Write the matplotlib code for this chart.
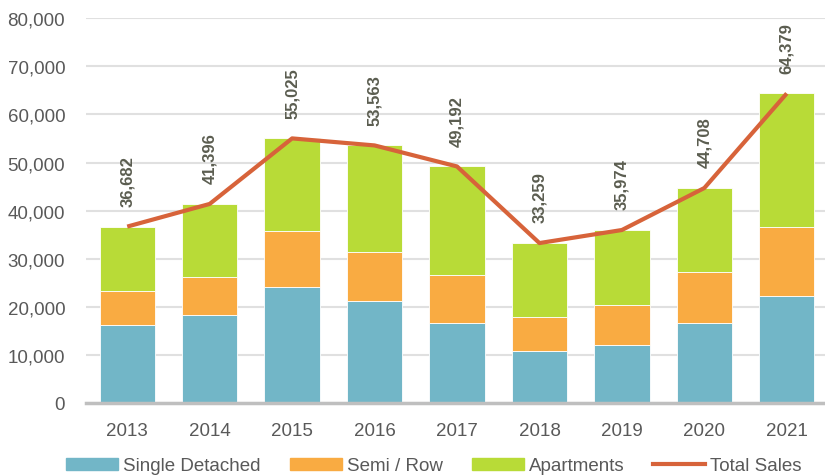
import matplotlib.pyplot as plt
from matplotlib.ticker import FuncFormatter
from matplotlib.patches import Patch
from matplotlib.lines import Line2D

plt.rcParams['font.family'] = ['Liberation Sans', 'DejaVu Sans']

years = ['2013', '2014', '2015', '2016', '2017', '2018', '2019', '2020', '2021']
single = [16200, 18300, 24050, 21150, 16630, 10750, 12120, 16570, 22180]
semi = [7150, 8000, 11750, 10150, 10040, 7050, 8180, 10600, 14470]
total = [36682, 41396, 55025, 53563, 49192, 33259, 35974, 44708, 64379]
apartments = [t - s - r for t, s, r in zip(total, single, semi)]

c_single = '#72b6c7'
c_semi = '#f9ab42'
c_apt = '#b8db37'
c_line = '#d7633a'
c_text = '#595959'

fig = plt.figure(figsize=(8.25, 4.77), dpi=100)
ax = fig.add_axes([86 / 825, 73 / 477, 742 / 825, 384.7 / 477])

x = range(len(years))
w = 0.67
bottom2 = [a + b for a, b in zip(single, semi)]
ax.bar(x, single, w, color=c_single, edgecolor='white', linewidth=0.6, zorder=2)
ax.bar(x, semi, w, bottom=single, color=c_semi, edgecolor='white', linewidth=0.6, zorder=2)
ax.bar(x, apartments, w, bottom=bottom2, color=c_apt, edgecolor='white', linewidth=0.6, zorder=2)
ax.plot(x, total, color=c_line, lw=3, zorder=3, solid_capstyle='butt')

# rotated total labels above each point of the line
for i, t in enumerate(total):
    ax.annotate(f'{t:,}', (i, t), xytext=(0, 15), textcoords='offset points',
                rotation=90, ha='center', va='bottom', fontsize=12,
                fontweight='bold', color='#5b5d50')

ax.set_xlim(-0.5, len(years) - 0.5)
ax.set_ylim(0, 80000)
ax.set_yticks(range(0, 80001, 10000))
ax.yaxis.set_major_formatter(FuncFormatter(lambda v, p: f'{int(v):,}'))
ax.set_xticks(list(x))
ax.set_xticklabels(years)
ax.tick_params(axis='both', length=0, labelsize=13.5, colors=c_text)
ax.tick_params(axis='x', pad=14)
ax.tick_params(axis='y', pad=15)
ax.grid(axis='y', color='#e0e0e0', lw=1.5, zorder=0)
ax.set_axisbelow(True)
for s in ['top', 'right', 'left']:
    ax.spines[s].set_visible(False)
ax.spines['bottom'].set_color('#bfbfbf')
ax.spines['bottom'].set_linewidth(2.5)

handles = [Patch(color=c_single, label='Single Detached'),
           Patch(color=c_semi, label='Semi / Row'),
           Patch(color=c_apt, label='Apartments'),
           Line2D([0], [0], color=c_line, lw=3, label='Total Sales')]
fig.legend(handles=handles, loc='center', bbox_to_anchor=(434 / 825, 10 / 477), ncol=4,
           frameon=False, fontsize=13.5, handlelength=2.77, handleheight=0.65,
           handletextpad=0.27, columnspacing=1.55, labelcolor=c_text,
           borderaxespad=0, borderpad=0)

fig.savefig('out.png', dpi=100)
